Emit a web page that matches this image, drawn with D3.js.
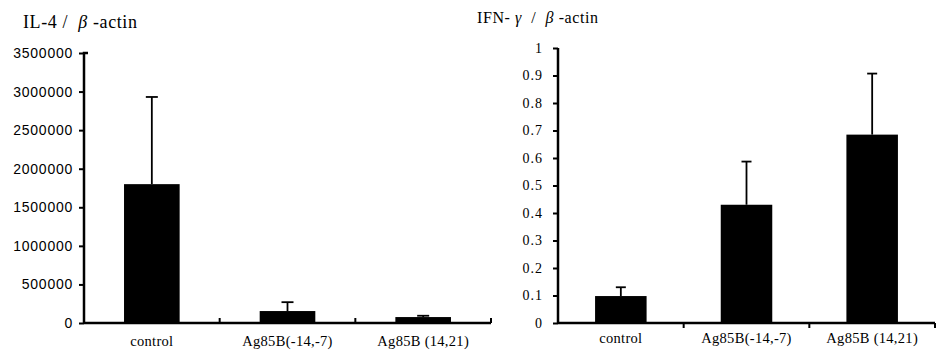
<!DOCTYPE html>
<html>
<head>
<meta charset="utf-8">
<script src="https://cdn.jsdelivr.net/npm/d3@7"></script>
<style>
	body { margin: 0; background: #fff; }
	svg { display: block; }
	.title { white-space: pre; }
</style>
</head>
<body>
<div id="box"></div>
<script>
// values
const categories = ['control', 'Ag85B(-14,-7)', 'Ag85B (14,21)'];

const il4Mean = [1800000, 155000, 77000];
const il4Err = [1130000, 115000, 17000];
const il4Ticks = [0, 500000, 1000000, 1500000, 2000000, 2500000, 3000000, 3500000];

const ifnMean = [0.098, 0.43, 0.685];
const ifnErr = [0.032, 0.157, 0.222];
const ifnTicks = [0, 0.1, 0.2, 0.3, 0.4, 0.5, 0.6, 0.7, 0.8, 0.9, 1];

const width = 944;
const height = 353;

const svg = d3.select('#box').append('svg')
	.attr('width', width)
	.attr('height', height)
	.attr('viewBox', [0, 0, width, height]);

function panel(o) {
	const x = d3.scaleBand(categories, o.xRange)
		.paddingInner(0.59)
		.paddingOuter(0.295);
	const y = d3.scaleLinear(o.yDomain, o.yRange);
	const step = x.step();
	const g = svg.append('g');

	// title, greek letters in italic
	const t = g.append('text')
		.attr('class', 'title')
		.attr('x', o.titleX)
		.attr('y', o.titleY)
		.attr('font-family', 'Liberation Serif, serif')
		.attr('font-size', o.titleSize)
		.attr('letter-spacing', o.titleSpacing)
		.attr('fill', '#000');
	t.selectAll('tspan')
		.data(o.title)
		.join('tspan')
		.attr('font-style', d => /[βγ]/.test(d) ? 'italic' : null)
		.text(d => d);

	// y axis
	const yAxis = d3.axisLeft(y)
		.tickValues(o.ticks)
		.tickSize(5)
		.tickPadding(o.tickPad)
		.tickFormat(o.fmt);

	g.append('g')
		.attr('transform', `translate(${o.xRange[0]},0)`)
		.call(yAxis)
		.call(a => a.select('.domain')
			.attr('stroke-width', 2.5)
			.attr('d', `M0,${o.yRange[0] + 1}V${o.yRange[1]}h${o.topStub}`))
		.call(a => a.selectAll('.tick line').attr('stroke-width', 2))
		.call(a => a.selectAll('.tick text')
			.attr('font-family', o.tickFont)
			.attr('font-size', o.tickSize)
			.attr('letter-spacing', o.tickSpacing)
			.attr('fill', '#000'));

	// bars
	g.selectAll('rect.bar')
		.data(o.mean)
		.join('rect')
		.attr('class', 'bar')
		.attr('x', (_, i) => x(categories[i]))
		.attr('width', x.bandwidth())
		.attr('y', d => y(d))
		.attr('height', d => y(0) - y(d))
		.attr('fill', '#000');

	// error bars
	const eb = g.selectAll('g.err')
		.data(o.mean.map((m, i) => [m, o.err[i], categories[i]]))
		.join('g')
		.attr('class', 'err')
		.attr('stroke', '#000')
		.attr('stroke-width', 1.8);
	eb.append('line')
		.attr('x1', d => x(d[2]) + x.bandwidth() / 2)
		.attr('x2', d => x(d[2]) + x.bandwidth() / 2)
		.attr('y1', d => y(d[0]))
		.attr('y2', d => y(d[0] + d[1]));
	eb.append('line')
		.attr('x1', d => x(d[2]) + x.bandwidth() / 2 - o.cap / 2)
		.attr('x2', d => x(d[2]) + x.bandwidth() / 2 + o.cap / 2)
		.attr('y1', d => y(d[0] + d[1]))
		.attr('y2', d => y(d[0] + d[1]));

	// x axis
	const y0 = y(0);
	g.append('line')
		.attr('x1', o.xRange[0])
		.attr('x2', o.xRange[1])
		.attr('y1', y0)
		.attr('y2', y0)
		.attr('stroke', '#000')
		.attr('stroke-width', 2.5);

	// category separators
	g.selectAll('line.sep')
		.data(categories)
		.join('line')
		.attr('class', 'sep')
		.attr('x1', d => x(d) + x.bandwidth() + step * 0.295)
		.attr('x2', d => x(d) + x.bandwidth() + step * 0.295)
		.attr('y1', y0)
		.attr('y2', y0 + o.sepLen)
		.attr('stroke', '#000')
		.attr('stroke-width', 2);

	g.selectAll('text.cat')
		.data(categories)
		.join('text')
		.attr('class', 'cat')
		.attr('x', d => x(d) + x.bandwidth() / 2)
		.attr('y', o.catY)
		.attr('text-anchor', 'middle')
		.attr('font-family', 'Liberation Serif, serif')
		.attr('font-size', 14.5)
		.attr('letter-spacing', 0.3)
		.attr('fill', '#000')
		.text(d => d);
}

panel({
	title: ['IL-4 /  ', 'β', ' -actin'],
	titleX: 23,
	titleY: 28,
	titleSize: 18,
	titleSpacing: 0.6,
	xRange: [84, 491],
	yDomain: [0, 3500000],
	yRange: [323, 53],
	topStub: 4,
	ticks: il4Ticks,
	fmt: d3.format('d'),
	tickFont: 'Liberation Sans, Arial, sans-serif',
	tickSize: 14,
	tickSpacing: 0.75,
	tickPad: 6,
	mean: il4Mean,
	err: il4Err,
	cap: 12,
	sepLen: -5,
	catY: 346,
});

panel({
	title: ['IFN- ', 'γ', '  /  ', 'β', ' -actin'],
	titleX: 477,
	titleY: 23,
	titleSize: 16,
	titleSpacing: 0.6,
	xRange: [558, 935],
	yDomain: [0, 1],
	yRange: [323, 48],
	topStub: 0,
	ticks: ifnTicks,
	fmt: d => d === 0 ? '0' : d === 1 ? '1' : d3.format('.1f')(d),
	tickFont: 'Liberation Serif, serif',
	tickSize: 14,
	tickSpacing: 1,
	tickPad: 10,
	mean: ifnMean,
	err: ifnErr,
	cap: 10,
	sepLen: 5,
	catY: 343,
});
</script>
</body>
</html>
